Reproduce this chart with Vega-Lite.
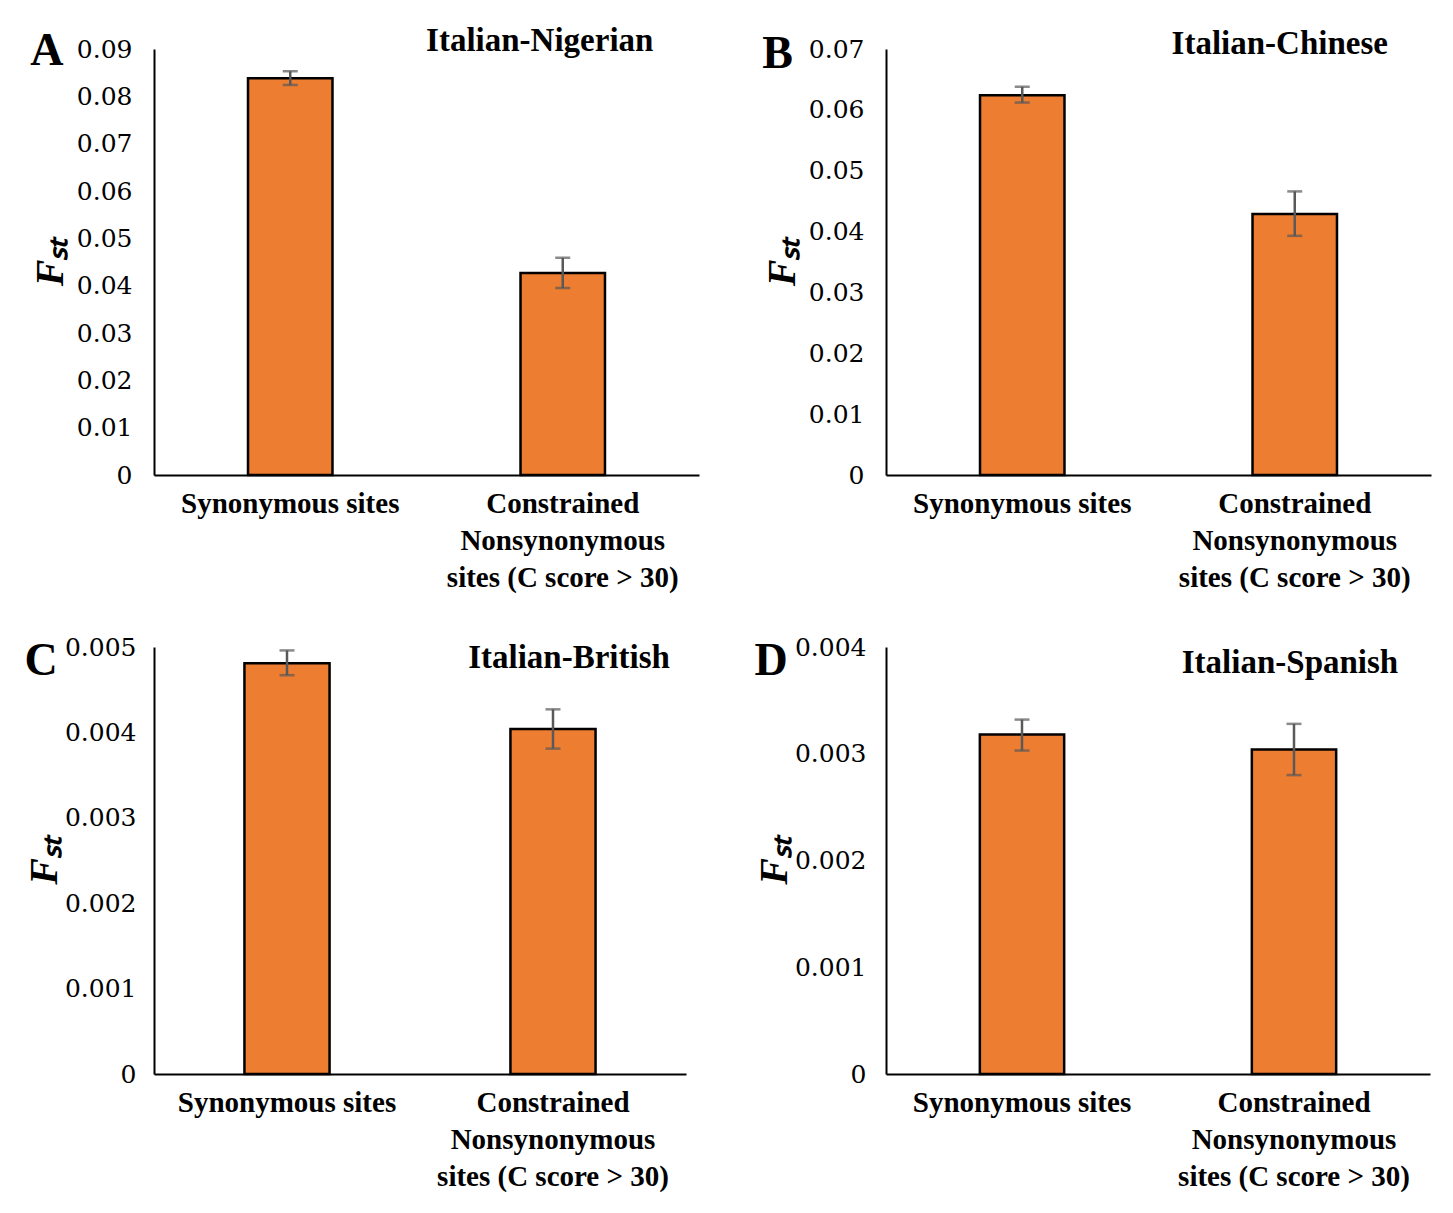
{
  "$schema": "https://vega.github.io/schema/vega-lite/v6.json",
  "background": "white",
  "padding": {"left": 24, "top": 25, "right": 10, "bottom": 5},
  "config": {
    "font": "Liberation Serif",
    "view": {"stroke": null},
    "concat": {"spacing": {"row": 43, "column": 55}},
    "axis": {"grid": false, "ticks": false, "domainColor": "black", "domainWidth": 2, "labelColor": "black", "titleColor": "black", "labelLimit": 0},
    "title": {"font": "Liberation Serif", "fontWeight": "bold", "fontSize": 46, "anchor": "start", "frame": "bounds", "color": "black"}
  },
  "datasets": {
    "fst": [
      {"panel": "A", "site": "Synonymous sites", "value": 0.0838, "lo": 0.0824, "hi": 0.0853},
      {"panel": "A", "site": "Constrained|Nonsynonymous|sites (C score > 30)", "value": 0.0427, "lo": 0.0395, "hi": 0.0459},
      {"panel": "B", "site": "Synonymous sites", "value": 0.0624, "lo": 0.0612, "hi": 0.0638},
      {"panel": "B", "site": "Constrained|Nonsynonymous|sites (C score > 30)", "value": 0.0429, "lo": 0.0393, "hi": 0.0466},
      {"panel": "C", "site": "Synonymous sites", "value": 0.00481, "lo": 0.00467, "hi": 0.00496},
      {"panel": "C", "site": "Constrained|Nonsynonymous|sites (C score > 30)", "value": 0.00404, "lo": 0.00381, "hi": 0.00427},
      {"panel": "D", "site": "Synonymous sites", "value": 0.00318, "lo": 0.00303, "hi": 0.00332},
      {"panel": "D", "site": "Constrained|Nonsynonymous|sites (C score > 30)", "value": 0.00304, "lo": 0.0028, "hi": 0.00328}
    ]
  },
  "columns": 2,
  "concat": [
    {
      "title": {"text": "A", "offset": -50},
      "width": 545, "height": 426,
      "data": {"name": "fst"},
      "transform": [{"filter": "datum.panel === 'A'"}],
      "encoding": {
        "x": {"field": "site", "type": "nominal", "sort": null, "scale": {"paddingInner": 0, "paddingOuter": 0}, "axis": {"title": null, "labelAngle": 0, "labelFont": "Liberation Serif", "labelFontSize": 29, "labelFontWeight": "bold", "labelLineHeight": 37, "labelPadding": 14, "labelLimit": 0, "labelExpr": "split(datum.label, '|')"}},
        "y": {"type": "quantitative", "scale": {"domain": [0, 0.09], "nice": false}, "axis": {"values": [0, 0.01, 0.02, 0.03, 0.04, 0.05, 0.06, 0.07, 0.08, 0.09], "format": ".2~f", "labelFont": "DejaVu Serif", "labelFontSize": 25, "labelPadding": 22, "title": "Fₛₜ", "titleFont": "Liberation Serif", "titleFontSize": 40, "titleFontStyle": "italic", "titleFontWeight": "bold", "titlePadding": 6}}
      },
      "layer": [
        {"mark": {"type": "bar", "width": {"band": 0.31}, "color": "#ED7D31", "stroke": "black", "strokeWidth": 2.5}, "encoding": {"y": {"field": "value"}}},
        {"mark": {"type": "rule", "color": "#595959", "strokeWidth": 2.5}, "encoding": {"y": {"field": "lo"}, "y2": {"field": "hi"}}},
        {"mark": {"type": "tick", "color": "#595959", "thickness": 2.5, "size": 15}, "encoding": {"y": {"field": "lo"}}},
        {"mark": {"type": "tick", "color": "#595959", "thickness": 2.5, "size": 15}, "encoding": {"y": {"field": "hi"}}},
        {"data": {"values": [{"label": "Italian-Nigerian"}]}, "mark": {"type": "text", "font": "Liberation Serif", "fontSize": 33, "fontWeight": "bold", "baseline": "middle", "dx": -23, "dy": -8}, "encoding": {"x": {"datum": "Constrained|Nonsynonymous|sites (C score > 30)"}, "y": {"datum": 0.09}, "text": {"field": "label"}}}
      ]
    },
    {
      "title": {"text": "B", "offset": -50},
      "width": 545, "height": 426,
      "data": {"name": "fst"},
      "transform": [{"filter": "datum.panel === 'B'"}],
      "encoding": {
        "x": {"field": "site", "type": "nominal", "sort": null, "scale": {"paddingInner": 0, "paddingOuter": 0}, "axis": {"title": null, "labelAngle": 0, "labelFont": "Liberation Serif", "labelFontSize": 29, "labelFontWeight": "bold", "labelLineHeight": 37, "labelPadding": 14, "labelLimit": 0, "labelExpr": "split(datum.label, '|')"}},
        "y": {"type": "quantitative", "scale": {"domain": [0, 0.07], "nice": false}, "axis": {"values": [0, 0.01, 0.02, 0.03, 0.04, 0.05, 0.06, 0.07], "format": ".2~f", "labelFont": "DejaVu Serif", "labelFontSize": 25, "labelPadding": 22, "title": "Fₛₜ", "titleFont": "Liberation Serif", "titleFontSize": 40, "titleFontStyle": "italic", "titleFontWeight": "bold", "titlePadding": 6}}
      },
      "layer": [
        {"mark": {"type": "bar", "width": {"band": 0.31}, "color": "#ED7D31", "stroke": "black", "strokeWidth": 2.5}, "encoding": {"y": {"field": "value"}}},
        {"mark": {"type": "rule", "color": "#595959", "strokeWidth": 2.5}, "encoding": {"y": {"field": "lo"}, "y2": {"field": "hi"}}},
        {"mark": {"type": "tick", "color": "#595959", "thickness": 2.5, "size": 15}, "encoding": {"y": {"field": "lo"}}},
        {"mark": {"type": "tick", "color": "#595959", "thickness": 2.5, "size": 15}, "encoding": {"y": {"field": "hi"}}},
        {"data": {"values": [{"label": "Italian-Chinese"}]}, "mark": {"type": "text", "font": "Liberation Serif", "fontSize": 33, "fontWeight": "bold", "baseline": "middle", "dx": -15, "dy": -5}, "encoding": {"x": {"datum": "Constrained|Nonsynonymous|sites (C score > 30)"}, "y": {"datum": 0.07}, "text": {"field": "label"}}}
      ]
    },
    {
      "title": {"text": "C", "offset": -50},
      "width": 532, "height": 427,
      "data": {"name": "fst"},
      "transform": [{"filter": "datum.panel === 'C'"}],
      "encoding": {
        "x": {"field": "site", "type": "nominal", "sort": null, "scale": {"paddingInner": 0, "paddingOuter": 0}, "axis": {"title": null, "labelAngle": 0, "labelFont": "Liberation Serif", "labelFontSize": 29, "labelFontWeight": "bold", "labelLineHeight": 37, "labelPadding": 14, "labelLimit": 0, "labelExpr": "split(datum.label, '|')"}},
        "y": {"type": "quantitative", "scale": {"domain": [0, 0.005], "nice": false}, "axis": {"values": [0, 0.001, 0.002, 0.003, 0.004, 0.005], "format": ".3~f", "labelFont": "DejaVu Serif", "labelFontSize": 25, "labelPadding": 18, "title": "Fₛₜ", "titleFont": "Liberation Serif", "titleFontSize": 40, "titleFontStyle": "italic", "titleFontWeight": "bold", "titlePadding": 0}}
      },
      "layer": [
        {"mark": {"type": "bar", "width": {"band": 0.32}, "color": "#ED7D31", "stroke": "black", "strokeWidth": 2.5}, "encoding": {"y": {"field": "value"}}},
        {"mark": {"type": "rule", "color": "#595959", "strokeWidth": 2.5}, "encoding": {"y": {"field": "lo"}, "y2": {"field": "hi"}}},
        {"mark": {"type": "tick", "color": "#595959", "thickness": 2.5, "size": 15}, "encoding": {"y": {"field": "lo"}}},
        {"mark": {"type": "tick", "color": "#595959", "thickness": 2.5, "size": 15}, "encoding": {"y": {"field": "hi"}}},
        {"data": {"values": [{"label": "Italian-British"}]}, "mark": {"type": "text", "font": "Liberation Serif", "fontSize": 33, "fontWeight": "bold", "baseline": "middle", "dx": 16, "dy": 11}, "encoding": {"x": {"datum": "Constrained|Nonsynonymous|sites (C score > 30)"}, "y": {"datum": 0.005}, "text": {"field": "label"}}}
      ]
    },
    {
      "title": {"text": "D", "offset": -50},
      "width": 544, "height": 427,
      "data": {"name": "fst"},
      "transform": [{"filter": "datum.panel === 'D'"}],
      "encoding": {
        "x": {"field": "site", "type": "nominal", "sort": null, "scale": {"paddingInner": 0, "paddingOuter": 0}, "axis": {"title": null, "labelAngle": 0, "labelFont": "Liberation Serif", "labelFontSize": 29, "labelFontWeight": "bold", "labelLineHeight": 37, "labelPadding": 14, "labelLimit": 0, "labelExpr": "split(datum.label, '|')"}},
        "y": {"type": "quantitative", "scale": {"domain": [0, 0.004], "nice": false}, "axis": {"values": [0, 0.001, 0.002, 0.003, 0.004], "format": ".3~f", "labelFont": "DejaVu Serif", "labelFontSize": 25, "labelPadding": 20, "title": "Fₛₜ", "titleFont": "Liberation Serif", "titleFontSize": 40, "titleFontStyle": "italic", "titleFontWeight": "bold", "titlePadding": 0}}
      },
      "layer": [
        {"mark": {"type": "bar", "width": {"band": 0.31}, "color": "#ED7D31", "stroke": "black", "strokeWidth": 2.5}, "encoding": {"y": {"field": "value"}}},
        {"mark": {"type": "rule", "color": "#595959", "strokeWidth": 2.5}, "encoding": {"y": {"field": "lo"}, "y2": {"field": "hi"}}},
        {"mark": {"type": "tick", "color": "#595959", "thickness": 2.5, "size": 15}, "encoding": {"y": {"field": "lo"}}},
        {"mark": {"type": "tick", "color": "#595959", "thickness": 2.5, "size": 15}, "encoding": {"y": {"field": "hi"}}},
        {"data": {"values": [{"label": "Italian-Spanish"}]}, "mark": {"type": "text", "font": "Liberation Serif", "fontSize": 33, "fontWeight": "bold", "baseline": "middle", "dx": -4, "dy": 16}, "encoding": {"x": {"datum": "Constrained|Nonsynonymous|sites (C score > 30)"}, "y": {"datum": 0.004}, "text": {"field": "label"}}}
      ]
    }
  ]
}
